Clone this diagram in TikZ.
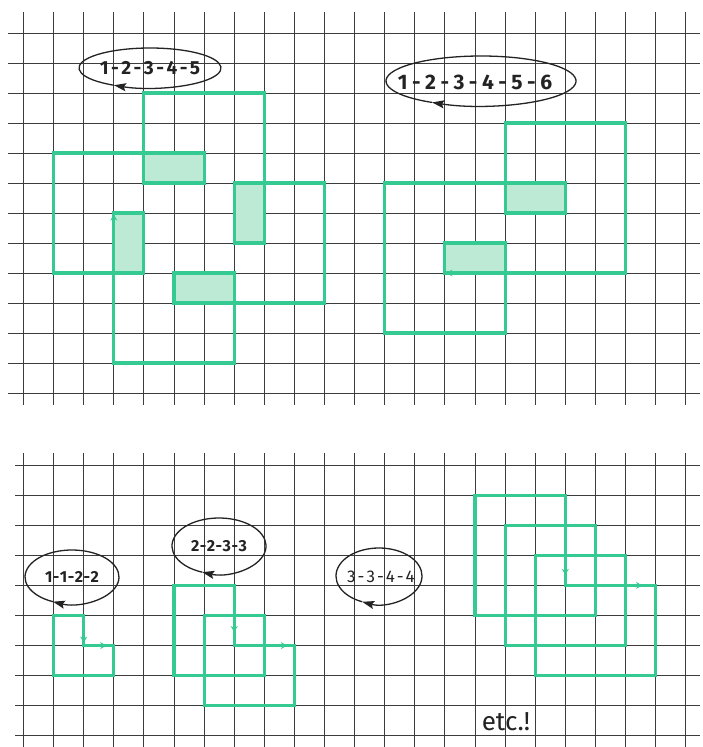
\documentclass[tikz,border=0pt]{standalone}
\usepackage{fontspec}
\setmainfont{Fira Sans}
\usetikzlibrary{arrows.meta}
\definecolor{gridc}{RGB}{60,60,60}
\definecolor{mint}{RGB}{52,202,146}
\definecolor{mintfill}{RGB}{188,234,212}
\definecolor{inkc}{RGB}{35,35,35}
\newcommand{\hy}[1]{\kern#1-\kern#1}
\begin{document}
\begin{tikzpicture}[x=1pt,y=-1pt,
  gridline/.style={draw=gridc, line width=0.9pt},
  spiro/.style={draw=mint, line width=3.1pt, line join=miter},
  overlap/.style={fill=mintfill},
  labring/.style={draw=inkc, line width=1.3pt, -{Stealth[length=12pt,width=8pt,inset=2pt]}},
  labtext/.style={text=inkc, inner sep=0pt},
  dirmark/.style={draw=mint, line width=2.6pt, -{Stealth[length=6pt,width=7pt]}}
]
\useasboundingbox (0,0) rectangle (702,747);
\fill[white] (0,0) rectangle (702,747);

% ---------------- top panel ----------------
\begin{scope}[xshift=23.5pt, yshift=-33pt, x=30.1pt, y=-30pt]
  \foreach \c in {0,...,22} \draw[gridline] (\c,-0.7) -- (\c,12.4);
  \foreach \r in {0,...,12} \draw[gridline] (-0.52,\r) -- (22.47,\r);
  % overlaps 1-2-3-4-5
  \fill[overlap] (4,4) rectangle (6,5);
  \fill[overlap] (7,5) rectangle (8,7);
  \fill[overlap] (5,8) rectangle (7,9);
  \fill[overlap] (3,6) rectangle (4,8);
  % overlaps 1-2-3-4-5-6
  \fill[overlap] (14,7) rectangle (16,8);
  \fill[overlap] (16,5) rectangle (18,6);
  % spirolateral 1-2-3-4-5
  \draw[spiro] (3,6) -- (4,6) -- (4,8) -- (1,8) -- (1,4) -- (6,4) -- (6,5) -- (4,5)
     -- (4,2) -- (8,2) -- (8,7) -- (7,7) -- (7,5) -- (10,5) -- (10,9) -- (5,9)
     -- (5,8) -- (7,8) -- (7,11) -- (3,11) -- cycle;
  \draw[dirmark] (3,6.55) -- (3,6.05);
  % spirolateral 1-2-3-4-5-6
  \draw[spiro] (14,8) -- (14,7) -- (16,7) -- (16,10) -- (12,10) -- (12,5) -- (18,5)
     -- (18,6) -- (16,6) -- (16,3) -- (20,3) -- (20,8) -- cycle;
  \draw[dirmark] (14.5,8) -- (14.05,8);
\end{scope}

% ---------------- bottom panel ----------------
\begin{scope}[xshift=23.5pt, yshift=-465pt, x=30.1pt, y=-30.1pt]
  \foreach \c in {0,...,22} \draw[gridline] (\c,-0.4) -- (\c,9.45);
  \foreach \r in {0,...,9} \draw[gridline] (-0.28,\r) -- (22.47,\r);
  % 1-1-2-2
  \draw[spiro] (2,6) -- (3,6) -- (3,7) -- (1,7) -- (1,5) -- (2,5) -- cycle;
  \draw[dirmark] (2,5.45) -- (2,5.9);
  \draw[dirmark] (2.3,6) -- (2.75,6);
  % 2-2-3-3
  \draw[spiro] (7,6) -- (9,6) -- (9,8) -- (6,8) -- (6,5) -- (8,5) -- (8,7) -- (5,7)
     -- (5,4) -- (7,4) -- cycle;
  \draw[dirmark] (7,5.1) -- (7,5.55);
  \draw[dirmark] (8.3,6) -- (8.75,6);
  % 3-3-4-4
  \draw[spiro] (18,4) -- (21,4) -- (21,7) -- (17,7) -- (17,3) -- (20,3) -- (20,6)
     -- (16,6) -- (16,2) -- (19,2) -- (19,5) -- (15,5) -- (15,1) -- (18,1) -- cycle;
  \draw[dirmark] (18,3.2) -- (18,3.65);
  \draw[dirmark] (20.1,4) -- (20.55,4);
\end{scope}

% ---------------- labels ----------------
\node[labtext, font=\fontsize{19}{19}\selectfont\bfseries] (lab1) at (150,68)
  {1\hy{2.5pt}2\hy{2.5pt}3\hy{2.5pt}4\hy{2.5pt}5};
\draw[labring] (lab1.center) ++(120.5-360: 71 and 20)
  arc[start angle=120.5-360, end angle=120.5, x radius=71, y radius=20];

\node[labtext, font=\fontsize{21}{21}\selectfont\bfseries] (lab2) at (475,82)
  {1\hy{4.5pt}2\hy{4.5pt}3\hy{4.5pt}4\hy{4.5pt}5\hy{4.5pt}6};
\draw[labring] ([shift={(6,-1)}]lab2.center) ++(121-360: 95 and 25)
  arc[start angle=121-360, end angle=121, x radius=95, y radius=25];

\node[labtext, font=\fontsize{16}{16}\selectfont\bfseries] (lab3) at (72,577)
  {1\hy{0.5pt}1\hy{0.5pt}2\hy{0.5pt}2};
\draw[labring] (lab3.center) ++(114-360: 47 and 27)
  arc[start angle=114-360, end angle=114, x radius=47, y radius=27];

\node[labtext, font=\fontsize{16}{16}\selectfont\bfseries] (lab4) at (219,546)
  {2\hy{0.5pt}2\hy{0.5pt}3\hy{0.5pt}3};
\draw[labring] (lab4.center) ++(111-360: 47 and 28)
  arc[start angle=111-360, end angle=111, x radius=47, y radius=28];

\node[labtext, font=\fontsize{17}{17}\selectfont] (lab5) at (381,577)
  {3\hy{2pt}3\hy{2pt}4\hy{2pt}4};
\draw[labring] ([shift={(-2,-1)}]lab5.center) ++(113-360: 43 and 28)
  arc[start angle=113-360, end angle=113, x radius=43, y radius=28];

\node[labtext, font=\fontsize{26}{26}\selectfont] (etc) at (506,722) {etc.!};
\end{tikzpicture}
\end{document}
